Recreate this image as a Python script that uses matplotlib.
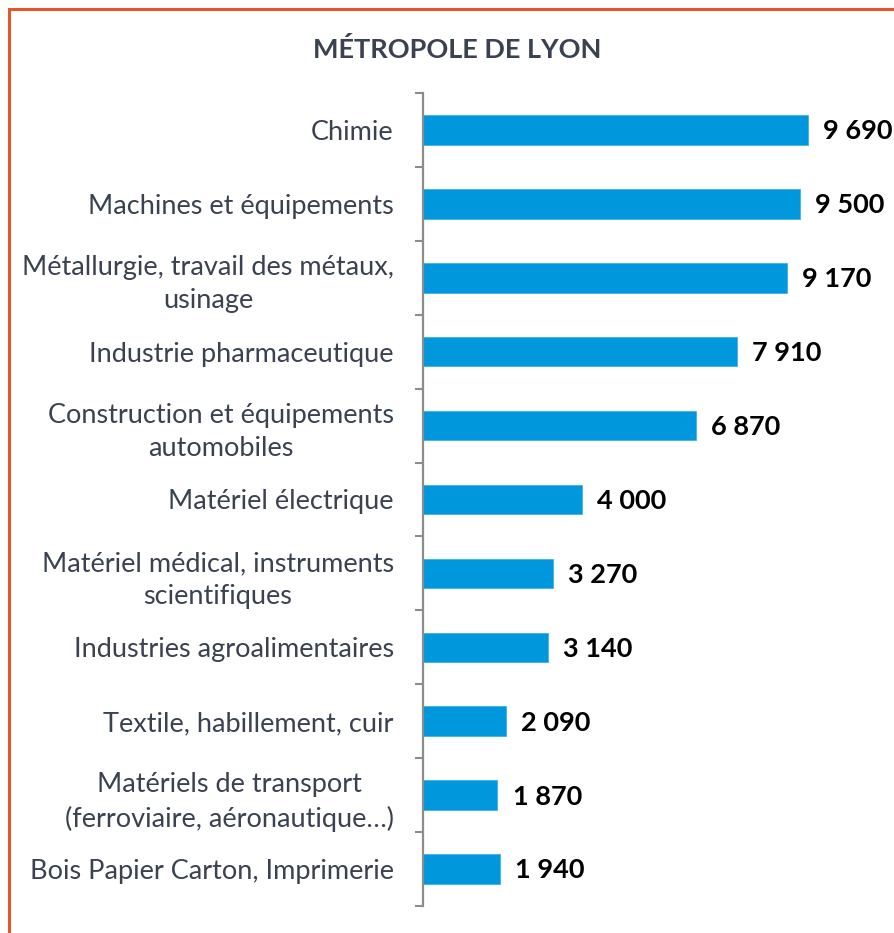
import numpy as np
import matplotlib.pyplot as plt
from matplotlib.lines import Line2D

# -----------------------------
# Data
# -----------------------------
categories = [
    "Chimie",
    "Machines et équipements",
    "Métallurgie, travail des métaux,\nusinage",
    "Industrie pharmaceutique",
    "Construction et équipements\nautomobiles",
    "Matériel électrique",
    "Matériel médical, instruments\nscientifiques",
    "Industries agroalimentaires",
    "Textile, habillement, cuir",
    "Matériels de transport\n(ferroviaire, aéronautique…)",
    "Bois Papier Carton, Imprimerie",
]
values = [9690, 9500, 9170, 7910, 6870, 4000, 3270, 3140, 2090, 1870, 1940]
title = "MÉTROPOLE DE LYON"

# colours
bar_color = "#0097DC"
label_color = "#3A4252"
spine_color = "#8C8C8C"
frame_color = "#E2572A"

plt.rcParams["font.family"] = ["Lato", "DejaVu Sans"]

W, H = 895, 933
fig = plt.figure(figsize=(W / 100, H / 100), dpi=100)
ax = fig.add_axes([423 / W, 1 - 906 / H, (W - 423) / W, (906 - 93) / H])

n = len(categories)
ypos = np.arange(n)
ax.barh(ypos, values, height=0.4, color=bar_color, edgecolor="#3DB2E8", linewidth=0.6)
ax.set_ylim(n - 0.5, -0.5)
ax.set_xlim(0, 11890)

for y, v in zip(ypos, values):
    ax.annotate(f"{v:,}".replace(",", " "), (v, y), xytext=(11, -1),
                textcoords="offset points", ha="left", va="center",
                fontsize=19.5, fontweight="bold", color="black")

# y axis: labels at centres, ticks at boundaries
ax.set_yticks(ypos)
ax.set_yticklabels(categories, fontsize=19.5, color=label_color,
                   multialignment="center", linespacing=1.4)
ax.tick_params(axis="y", which="major", length=0, pad=21)
ax.set_yticks(np.arange(n + 1) - 0.5, minor=True)
ax.tick_params(axis="y", which="minor", length=6, width=1.5, color=spine_color)
ax.set_xticks([])

for s in ["top", "right", "bottom"]:
    ax.spines[s].set_visible(False)
ax.spines["left"].set_color(spine_color)
ax.spines["left"].set_linewidth(1.6)

fig.text(457 / W, 1 - 50 / H, title, ha="center", va="center",
         fontsize=19.5, fontweight="bold", color=label_color)

# orange frame (top and left edges visible)
fig.add_artist(Line2D([9 / W, 1], [1 - 9 / H, 1 - 9 / H], color=frame_color, lw=2.2))
fig.add_artist(Line2D([9 / W, 9 / W], [0, 1 - 9 / H], color=frame_color, lw=2.2))

fig.savefig("out.png", dpi=100)
